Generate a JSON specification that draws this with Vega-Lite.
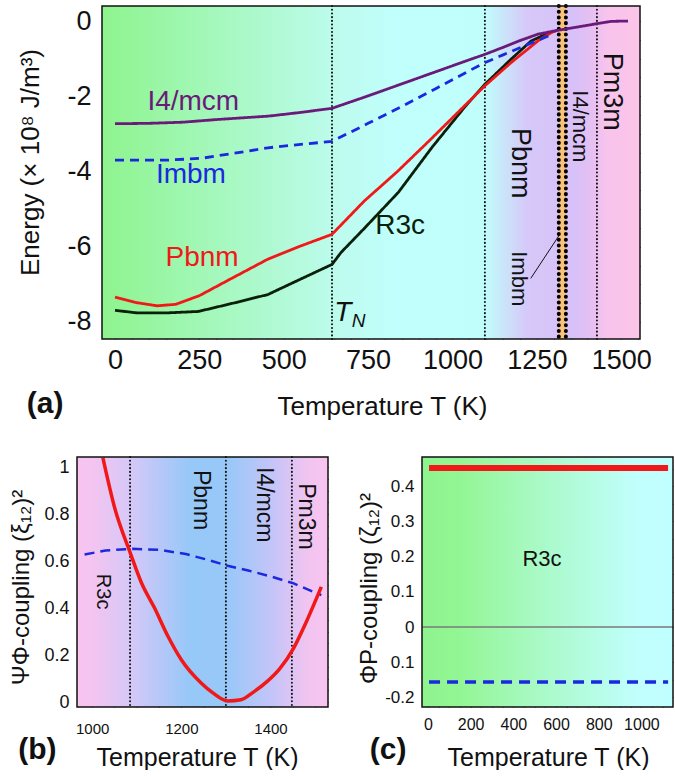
{
  "$schema": "https://vega.github.io/schema/vega-lite/v6.json",
  "background": "white",
  "padding": {"left": 8, "top": 4, "right": 0, "bottom": 0},
  "bounds": "flush",
  "spacing": 451,
  "config": {
    "view": {"stroke": null},
    "font": "Liberation Sans",
    "axis": {"domain": false, "grid": false, "ticks": true, "tickSize": -5, "tickColor": "#111", "tickWidth": 1, "labelColor": "#111", "titleColor": "#111", "labelFont": "Liberation Sans", "titleFont": "Liberation Sans", "titleFontWeight": "normal", "zindex": 1, "labelOverlap": false, "labelFlush": false, "labelBound": false, "labelSeparation": 0},
    "text": {"font": "Liberation Sans"}
  },
  "datasets": {
    "bgA": [{"T": -38.5, "T2": 1555.6, "E": -8.452, "E2": 0.399}],
    "bandA": [{"T": 1315, "T2": 1336}],
    "vA": [{"T": 643}, {"T": 1096}, {"T": 1428}],
    "thickA": [{"T": 1315}, {"T": 1336}],
    "curvesA": [
      {"series": "R3c", "T": 0, "E": -7.69}, {"series": "R3c", "T": 67, "E": -7.76}, {"series": "R3c", "T": 150, "E": -7.76}, {"series": "R3c", "T": 247, "E": -7.72}, {"series": "R3c", "T": 350, "E": -7.5}, {"series": "R3c", "T": 453, "E": -7.27}, {"series": "R3c", "T": 550, "E": -6.86}, {"series": "R3c", "T": 643, "E": -6.47}, {"series": "R3c", "T": 670, "E": -6.15}, {"series": "R3c", "T": 740, "E": -5.5}, {"series": "R3c", "T": 840, "E": -4.55}, {"series": "R3c", "T": 940, "E": -3.35}, {"series": "R3c", "T": 1035, "E": -2.3}, {"series": "R3c", "T": 1095, "E": -1.69}, {"series": "R3c", "T": 1173, "E": -1.02}, {"series": "R3c", "T": 1233, "E": -0.53}, {"series": "R3c", "T": 1290, "E": -0.3},
      {"series": "Pbnm", "T": 0, "E": -7.34}, {"series": "Pbnm", "T": 60, "E": -7.48}, {"series": "Pbnm", "T": 125, "E": -7.57}, {"series": "Pbnm", "T": 180, "E": -7.53}, {"series": "Pbnm", "T": 250, "E": -7.3}, {"series": "Pbnm", "T": 350, "E": -6.82}, {"series": "Pbnm", "T": 453, "E": -6.33}, {"series": "Pbnm", "T": 550, "E": -5.98}, {"series": "Pbnm", "T": 643, "E": -5.67}, {"series": "Pbnm", "T": 738, "E": -4.79}, {"series": "Pbnm", "T": 838, "E": -3.99}, {"series": "Pbnm", "T": 936, "E": -3.14}, {"series": "Pbnm", "T": 1035, "E": -2.26}, {"series": "Pbnm", "T": 1095, "E": -1.73}, {"series": "Pbnm", "T": 1173, "E": -1.11}, {"series": "Pbnm", "T": 1253, "E": -0.53}, {"series": "Pbnm", "T": 1292, "E": -0.31}, {"series": "Pbnm", "T": 1310, "E": -0.25},
      {"series": "Imbm", "T": 0, "E": -3.7}, {"series": "Imbm", "T": 150, "E": -3.7}, {"series": "Imbm", "T": 255, "E": -3.65}, {"series": "Imbm", "T": 350, "E": -3.52}, {"series": "Imbm", "T": 453, "E": -3.37}, {"series": "Imbm", "T": 550, "E": -3.28}, {"series": "Imbm", "T": 643, "E": -3.2}, {"series": "Imbm", "T": 750, "E": -2.72}, {"series": "Imbm", "T": 850, "E": -2.27}, {"series": "Imbm", "T": 950, "E": -1.8}, {"series": "Imbm", "T": 1050, "E": -1.32}, {"series": "Imbm", "T": 1095, "E": -1.11}, {"series": "Imbm", "T": 1150, "E": -0.9}, {"series": "Imbm", "T": 1200, "E": -0.71}, {"series": "Imbm", "T": 1250, "E": -0.52}, {"series": "Imbm", "T": 1300, "E": -0.34},
      {"series": "I4/mcm", "T": 0, "E": -2.73}, {"series": "I4/mcm", "T": 100, "E": -2.72}, {"series": "I4/mcm", "T": 200, "E": -2.69}, {"series": "I4/mcm", "T": 300, "E": -2.62}, {"series": "I4/mcm", "T": 400, "E": -2.56}, {"series": "I4/mcm", "T": 453, "E": -2.53}, {"series": "I4/mcm", "T": 550, "E": -2.43}, {"series": "I4/mcm", "T": 643, "E": -2.32}, {"series": "I4/mcm", "T": 750, "E": -1.99}, {"series": "I4/mcm", "T": 850, "E": -1.67}, {"series": "I4/mcm", "T": 950, "E": -1.35}, {"series": "I4/mcm", "T": 1050, "E": -1.03}, {"series": "I4/mcm", "T": 1095, "E": -0.89}, {"series": "I4/mcm", "T": 1150, "E": -0.7}, {"series": "I4/mcm", "T": 1200, "E": -0.52}, {"series": "I4/mcm", "T": 1253, "E": -0.35}, {"series": "I4/mcm", "T": 1310, "E": -0.25}, {"series": "I4/mcm", "T": 1370, "E": -0.16}, {"series": "I4/mcm", "T": 1428, "E": -0.07}, {"series": "I4/mcm", "T": 1470, "E": -0.01}, {"series": "I4/mcm", "T": 1520, "E": 0.0}
    ],
    "pointerA": [{"T": 1232, "E": -6.84}, {"T": 1318, "E": -5.67}],
    "labA": [{"T": 232, "E": -2.15, "text": "I4/mcm", "series": "I4/mcm"}, {"T": 225, "E": -4.1, "text": "Imbm", "series": "Imbm"}, {"T": 258, "E": -6.3, "text": "Pbnm", "series": "Pbnm"}, {"T": 845, "E": -5.45, "text": "R3c", "series": "R3c"}],
    "rotBigA": [{"T": 1200, "E": -3.78, "text": "Pbnm"}, {"T": 1473, "E": -1.88, "text": "Pm3m"}],
    "rotSmallA": [{"T": 1378, "E": -2.8, "text": "I4/mcm"}, {"T": 1198, "E": -6.85, "text": "Imbm"}],
    "tA": [{"T": 675, "E": -7.77, "text": "T"}],
    "nA": [{"T": 722, "E": -7.97, "text": "N"}],
    "panelLabA": [{"T": -207, "E": -10.18, "text": "(a)"}],
    "bgB": [{"T": 966, "T2": 1529, "v": -0.021, "v2": 1.043}],
    "vB": [{"T": 1085}, {"T": 1300}, {"T": 1448}],
    "redB": [{"T": 1024, "v": 1.04}, {"T": 1050, "v": 0.83}, {"T": 1086, "v": 0.632}, {"T": 1110, "v": 0.51}, {"T": 1140, "v": 0.4}, {"T": 1170, "v": 0.28}, {"T": 1200, "v": 0.18}, {"T": 1245, "v": 0.08}, {"T": 1270, "v": 0.04}, {"T": 1304, "v": 0.005}, {"T": 1334, "v": 0.01}, {"T": 1360, "v": 0.04}, {"T": 1394, "v": 0.09}, {"T": 1420, "v": 0.14}, {"T": 1452, "v": 0.23}, {"T": 1480, "v": 0.34}, {"T": 1514, "v": 0.49}],
    "blueB": [{"T": 983, "v": 0.628}, {"T": 1030, "v": 0.645}, {"T": 1090, "v": 0.652}, {"T": 1150, "v": 0.648}, {"T": 1210, "v": 0.63}, {"T": 1260, "v": 0.605}, {"T": 1304, "v": 0.58}, {"T": 1350, "v": 0.56}, {"T": 1400, "v": 0.535}, {"T": 1452, "v": 0.505}, {"T": 1514, "v": 0.455}],
    "rotB": [{"T": 1244, "v": 0.86, "text": "Pbnm"}, {"T": 1386, "v": 0.84, "text": "I4/mcm"}, {"T": 1480, "v": 0.79, "text": "Pm3m"}],
    "r3cB": [{"T": 1024, "v": 0.47, "text": "R3c"}],
    "panelLabB": [{"T": 877, "v": -0.204, "text": "(b)"}],
    "bgC": [{"T": -28, "T2": 1148, "v": -0.227, "v2": 0.483}],
    "zeroC": [{"v": 0}],
    "redC": [{"T": 5, "v": 0.452}, {"T": 1125, "v": 0.452}],
    "blueC": [{"T": 5, "v": -0.156}, {"T": 1125, "v": -0.156}],
    "r3cC": [{"T": 534, "v": 0.193, "text": "R3c"}],
    "panelLabC": [{"T": -187, "v": -0.349, "text": "(c)"}]
  },
  "vconcat": [
    {
      "bounds": "flush",
      "spacing": 10,
      "hconcat": [
        {"width": 15, "height": 10, "data": {"name": "bgA"}, "mark": {"type": "point", "opacity": 0}, "encoding": {}},
        {
          "width": 538,
          "height": 333,
          "resolve": {"axis": {"x": "independent", "y": "independent"}},
          "layer": [
            {
              "layer": [
                {"data": {"name": "bgA"}, "mark": {"type": "rect", "stroke": null, "fill": {"gradient": "linear", "x1": 0, "y1": 0, "x2": 1, "y2": 0, "stops": [{"offset": 0, "color": "#8EF48E"}, {"offset": 0.45, "color": "#BEFCF0"}, {"offset": 0.55, "color": "#C0FFFC"}, {"offset": 0.71, "color": "#C0FEFC"}, {"offset": 0.79, "color": "#D6C8F8"}, {"offset": 0.88, "color": "#D8C0F8"}, {"offset": 0.91, "color": "#E6C0F2"}, {"offset": 0.94, "color": "#F8C4EC"}, {"offset": 1, "color": "#FCC4E8"}]}},
                  "encoding": {"x": {"field": "T", "type": "quantitative", "axis": null, "scale": {"domain": [-38.5, 1555.6], "nice": false, "zero": false}}, "x2": {"field": "T2"}, "y": {"field": "E", "type": "quantitative", "axis": null, "scale": {"domain": [-8.452, 0.399], "nice": false, "zero": false}}, "y2": {"field": "E2"}}},
                {"data": {"name": "bandA"}, "mark": {"type": "rect", "fill": "#F8C27A", "stroke": null}, "encoding": {"x": {"field": "T", "type": "quantitative", "axis": null, "scale": {"domain": [-38.5, 1555.6], "nice": false, "zero": false}}, "x2": {"field": "T2"}}},
                {"data": {"name": "vA"}, "mark": {"type": "rule", "color": "#111", "strokeWidth": 2, "strokeDash": [0.1, 3.6], "strokeCap": "round"}, "encoding": {"x": {"field": "T", "type": "quantitative", "axis": null, "scale": {"domain": [-38.5, 1555.6], "nice": false, "zero": false}}}},
                {"data": {"name": "thickA"}, "mark": {"type": "rule", "color": "#000", "strokeWidth": 4, "strokeDash": [0.1, 5.6], "strokeCap": "round"}, "encoding": {"x": {"field": "T", "type": "quantitative", "axis": null, "scale": {"domain": [-38.5, 1555.6], "nice": false, "zero": false}}}},
                {"data": {"name": "curvesA"}, "mark": {"type": "line", "strokeWidth": 2.8}, "encoding": {
                  "x": {"field": "T", "type": "quantitative", "axis": null, "scale": {"domain": [-38.5, 1555.6], "nice": false, "zero": false}},
                  "y": {"field": "E", "type": "quantitative", "axis": null, "scale": {"domain": [-8.452, 0.399], "nice": false, "zero": false}},
                  "color": {"field": "series", "type": "nominal", "scale": {"domain": ["I4/mcm", "Imbm", "Pbnm", "R3c"], "range": ["#6A1B7A", "#1A28E0", "#F01818", "#0A200A"]}, "legend": null},
                  "strokeDash": {"field": "series", "type": "nominal", "scale": {"domain": ["I4/mcm", "Imbm", "Pbnm", "R3c"], "range": [[1, 0], [9, 6], [1, 0], [1, 0]]}, "legend": null}
                }},
                {"data": {"name": "pointerA"}, "mark": {"type": "line", "color": "#111", "strokeWidth": 1}, "encoding": {"x": {"field": "T", "type": "quantitative", "axis": null, "scale": {"domain": [-38.5, 1555.6], "nice": false, "zero": false}}, "y": {"field": "E", "type": "quantitative", "axis": null, "scale": {"domain": [-8.452, 0.399], "nice": false, "zero": false}}}},
                {"data": {"name": "labA"}, "mark": {"type": "text", "fontSize": 28, "align": "center", "baseline": "middle"}, "encoding": {"x": {"field": "T", "type": "quantitative", "axis": null, "scale": {"domain": [-38.5, 1555.6], "nice": false, "zero": false}}, "y": {"field": "E", "type": "quantitative", "axis": null, "scale": {"domain": [-8.452, 0.399], "nice": false, "zero": false}}, "text": {"field": "text"}, "color": {"field": "series", "type": "nominal", "scale": {"domain": ["I4/mcm", "Imbm", "Pbnm", "R3c"], "range": ["#6A1B7A", "#1A28E0", "#F01818", "#0A200A"]}, "legend": null}}},
                {"data": {"name": "rotBigA"}, "mark": {"type": "text", "fontSize": 27, "angle": 90, "align": "center", "baseline": "middle", "color": "#111"}, "encoding": {"x": {"field": "T", "type": "quantitative", "axis": null, "scale": {"domain": [-38.5, 1555.6], "nice": false, "zero": false}}, "y": {"field": "E", "type": "quantitative", "axis": null, "scale": {"domain": [-8.452, 0.399], "nice": false, "zero": false}}, "text": {"field": "text"}}},
                {"data": {"name": "rotSmallA"}, "mark": {"type": "text", "fontSize": 22, "angle": 90, "align": "center", "baseline": "middle", "color": "#111"}, "encoding": {"x": {"field": "T", "type": "quantitative", "axis": null, "scale": {"domain": [-38.5, 1555.6], "nice": false, "zero": false}}, "y": {"field": "E", "type": "quantitative", "axis": null, "scale": {"domain": [-8.452, 0.399], "nice": false, "zero": false}}, "text": {"field": "text"}}},
                {"data": {"name": "tA"}, "mark": {"type": "text", "fontSize": 28, "fontStyle": "italic", "align": "center", "baseline": "middle", "color": "#111"}, "encoding": {"x": {"field": "T", "type": "quantitative", "axis": null, "scale": {"domain": [-38.5, 1555.6], "nice": false, "zero": false}}, "y": {"field": "E", "type": "quantitative", "axis": null, "scale": {"domain": [-8.452, 0.399], "nice": false, "zero": false}}, "text": {"field": "text"}}},
                {"data": {"name": "nA"}, "mark": {"type": "text", "fontSize": 19, "fontStyle": "italic", "align": "center", "baseline": "middle", "color": "#111"}, "encoding": {"x": {"field": "T", "type": "quantitative", "axis": null, "scale": {"domain": [-38.5, 1555.6], "nice": false, "zero": false}}, "y": {"field": "E", "type": "quantitative", "axis": null, "scale": {"domain": [-8.452, 0.399], "nice": false, "zero": false}}, "text": {"field": "text"}}},
                {"data": {"name": "panelLabA"}, "mark": {"type": "text", "fontSize": 30, "fontWeight": "bold", "align": "center", "baseline": "middle", "color": "#111"}, "encoding": {"x": {"field": "T", "type": "quantitative", "axis": null, "scale": {"domain": [-38.5, 1555.6], "nice": false, "zero": false}}, "y": {"field": "E", "type": "quantitative", "axis": null, "scale": {"domain": [-8.452, 0.399], "nice": false, "zero": false}}, "text": {"field": "text"}}},
                {"data": {"name": "bgA"}, "mark": {"type": "rect", "fill": null, "fillOpacity": 0, "stroke": "#111", "strokeWidth": 1.5}, "encoding": {"x": {"field": "T", "type": "quantitative", "axis": null, "scale": {"domain": [-38.5, 1555.6], "nice": false, "zero": false}}, "x2": {"field": "T2"}, "y": {"field": "E", "type": "quantitative", "axis": null, "scale": {"domain": [-8.452, 0.399], "nice": false, "zero": false}}, "y2": {"field": "E2"}}}
              ]
            },
            {"data": {"name": "bgA"}, "mark": {"type": "point", "opacity": 0}, "encoding": {
              "x": {"field": "T", "type": "quantitative", "scale": {"domain": [-38.5, 1555.6], "nice": false, "zero": false}, "axis": {"orient": "bottom", "values": [0, 50, 100, 150, 200, 250, 300, 350, 400, 450, 500, 550, 600, 650, 700, 750, 800, 850, 900, 950, 1000, 1050, 1100, 1150, 1200, 1250, 1300, 1350, 1400, 1450, 1500, 1550], "labelExpr": "datum.value % 250 == 0 ? '' + datum.value : ''", "labelOverlap": false, "labelFontSize": 27, "labelPadding": 13, "title": "Temperature T (K)", "titleFontSize": 26, "titleX": 280, "titleY": 67, "titleBaseline": "middle", "titleAlign": "center"}},
              "y": {"field": "E", "type": "quantitative", "scale": {"domain": [-8.452, 0.399], "nice": false, "zero": false}, "axis": {"orient": "left", "values": [-8, -7.5, -7, -6.5, -6, -5.5, -5, -4.5, -4, -3.5, -3, -2.5, -2, -1.5, -1, -0.5, 0], "labelExpr": "datum.value % 2 == 0 ? '' + datum.value : ''", "labelOverlap": false, "labelFontSize": 27, "labelPadding": 16, "title": "Energy   (× 10⁸  J/m³)", "titleFontSize": 26, "titleX": -72, "titleY": 156, "titleBaseline": "middle", "titleAlign": "center", "titleAngle": -90}}
            }},
            {"data": {"name": "bgA"}, "mark": {"type": "point", "opacity": 0}, "encoding": {
              "x": {"field": "T", "type": "quantitative", "scale": {"domain": [-38.5, 1555.6], "nice": false, "zero": false}, "axis": {"orient": "top", "labels": false, "title": null, "values": [0, 50, 100, 150, 200, 250, 300, 350, 400, 450, 500, 550, 600, 650, 700, 750, 800, 850, 900, 950, 1000, 1050, 1100, 1150, 1200, 1250, 1300, 1350, 1400, 1450, 1500, 1550]}},
              "y": {"field": "E", "type": "quantitative", "scale": {"domain": [-8.452, 0.399], "nice": false, "zero": false}, "axis": {"orient": "right", "labels": false, "title": null, "values": [-8, -7.5, -7, -6.5, -6, -5.5, -5, -4.5, -4, -3.5, -3, -2.5, -2, -1.5, -1, -0.5, 0]}}
            }}
          ]
        }
      ]
    },
    {
      "bounds": "flush",
      "spacing": 94,
      "hconcat": [
        {
          "width": 251,
          "height": 250,
          "resolve": {"axis": {"x": "independent", "y": "independent"}},
          "layer": [
            {
              "layer": [
                {"data": {"name": "bgB"}, "mark": {"type": "rect", "stroke": null, "fill": {"gradient": "linear", "x1": 0, "y1": 0, "x2": 1, "y2": 0, "stops": [{"offset": 0, "color": "#F8C4F0"}, {"offset": 0.06, "color": "#F4C4F0"}, {"offset": 0.22, "color": "#D4C8F8"}, {"offset": 0.45, "color": "#96C8F8"}, {"offset": 0.6, "color": "#98C8F8"}, {"offset": 0.79, "color": "#C8C4F8"}, {"offset": 0.92, "color": "#F2C4F0"}, {"offset": 1, "color": "#F8C4F0"}]}},
                  "encoding": {"x": {"field": "T", "type": "quantitative", "axis": null, "scale": {"domain": [966, 1529], "nice": false, "zero": false}}, "x2": {"field": "T2"}, "y": {"field": "v", "type": "quantitative", "axis": null, "scale": {"domain": [-0.021, 1.043], "nice": false, "zero": false}}, "y2": {"field": "v2"}}},
                {"data": {"name": "vB"}, "mark": {"type": "rule", "color": "#111", "strokeWidth": 2, "strokeDash": [0.1, 3.6], "strokeCap": "round"}, "encoding": {"x": {"field": "T", "type": "quantitative", "axis": null, "scale": {"domain": [966, 1529], "nice": false, "zero": false}}}},
                {"data": {"name": "blueB"}, "mark": {"type": "line", "color": "#1A28E0", "strokeWidth": 2.5, "strokeDash": [10, 6]}, "encoding": {"x": {"field": "T", "type": "quantitative", "axis": null, "scale": {"domain": [966, 1529], "nice": false, "zero": false}}, "y": {"field": "v", "type": "quantitative", "axis": null, "scale": {"domain": [-0.021, 1.043], "nice": false, "zero": false}}}},
                {"data": {"name": "redB"}, "mark": {"type": "line", "color": "#F01818", "strokeWidth": 3.5, "interpolate": "monotone", "clip": true}, "encoding": {"x": {"field": "T", "type": "quantitative", "axis": null, "scale": {"domain": [966, 1529], "nice": false, "zero": false}}, "y": {"field": "v", "type": "quantitative", "axis": null, "scale": {"domain": [-0.021, 1.043], "nice": false, "zero": false}}}},
                {"data": {"name": "rotB"}, "mark": {"type": "text", "fontSize": 23, "angle": 90, "align": "center", "baseline": "middle", "color": "#111"}, "encoding": {"x": {"field": "T", "type": "quantitative", "axis": null, "scale": {"domain": [966, 1529], "nice": false, "zero": false}}, "y": {"field": "v", "type": "quantitative", "axis": null, "scale": {"domain": [-0.021, 1.043], "nice": false, "zero": false}}, "text": {"field": "text"}}},
                {"data": {"name": "r3cB"}, "mark": {"type": "text", "fontSize": 20, "angle": 90, "align": "center", "baseline": "middle", "color": "#111"}, "encoding": {"x": {"field": "T", "type": "quantitative", "axis": null, "scale": {"domain": [966, 1529], "nice": false, "zero": false}}, "y": {"field": "v", "type": "quantitative", "axis": null, "scale": {"domain": [-0.021, 1.043], "nice": false, "zero": false}}, "text": {"field": "text"}}},
                {"data": {"name": "panelLabB"}, "mark": {"type": "text", "fontSize": 30, "fontWeight": "bold", "align": "center", "baseline": "middle", "color": "#111"}, "encoding": {"x": {"field": "T", "type": "quantitative", "axis": null, "scale": {"domain": [966, 1529], "nice": false, "zero": false}}, "y": {"field": "v", "type": "quantitative", "axis": null, "scale": {"domain": [-0.021, 1.043], "nice": false, "zero": false}}, "text": {"field": "text"}}},
                {"data": {"name": "bgB"}, "mark": {"type": "rect", "fill": null, "fillOpacity": 0, "stroke": "#111", "strokeWidth": 1.5}, "encoding": {"x": {"field": "T", "type": "quantitative", "axis": null, "scale": {"domain": [966, 1529], "nice": false, "zero": false}}, "x2": {"field": "T2"}, "y": {"field": "v", "type": "quantitative", "axis": null, "scale": {"domain": [-0.021, 1.043], "nice": false, "zero": false}}, "y2": {"field": "v2"}}}
              ]
            },
            {"data": {"name": "bgB"}, "mark": {"type": "point", "opacity": 0}, "encoding": {
              "x": {"field": "T", "type": "quantitative", "scale": {"domain": [966, 1529], "nice": false, "zero": false}, "axis": {"orient": "bottom", "values": [1000, 1050, 1100, 1150, 1200, 1250, 1300, 1350, 1400, 1450, 1500], "labelExpr": "datum.value % 200 == 0 ? '' + datum.value : ''", "labelOverlap": false, "labelFontSize": 15, "labelPadding": 19, "title": "Temperature T (K)", "titleFontSize": 25, "titleX": 120, "titleY": 50, "titleBaseline": "middle", "titleAlign": "center"}},
              "y": {"field": "v", "type": "quantitative", "scale": {"domain": [-0.021, 1.043], "nice": false, "zero": false}, "axis": {"orient": "left", "values": [0, 0.05, 0.1, 0.15, 0.2, 0.25, 0.3, 0.35, 0.4, 0.45, 0.5, 0.55, 0.6, 0.65, 0.7, 0.75, 0.8, 0.85, 0.9, 0.95, 1], "labelExpr": "abs(datum.value * 5 - round(datum.value * 5)) < 0.001 ? '' + datum.value : ''", "labelOverlap": false, "labelFontSize": 18, "labelPadding": 13, "title": "ΨΦ-coupling  (ξ₁₂)²", "titleFontSize": 24, "titleX": -56, "titleY": 130, "titleBaseline": "middle", "titleAlign": "center", "titleAngle": -90}}
            }},
            {"data": {"name": "bgB"}, "mark": {"type": "point", "opacity": 0}, "encoding": {
              "x": {"field": "T", "type": "quantitative", "scale": {"domain": [966, 1529], "nice": false, "zero": false}, "axis": {"orient": "top", "labels": false, "title": null, "values": [1000, 1050, 1100, 1150, 1200, 1250, 1300, 1350, 1400, 1450, 1500]}},
              "y": {"field": "v", "type": "quantitative", "scale": {"domain": [-0.021, 1.043], "nice": false, "zero": false}, "axis": {"orient": "right", "labels": false, "title": null, "values": [0, 0.05, 0.1, 0.15, 0.2, 0.25, 0.3, 0.35, 0.4, 0.45, 0.5, 0.55, 0.6, 0.65, 0.7, 0.75, 0.8, 0.85, 0.9, 0.95, 1]}}
            }}
          ]
        },
        {
          "width": 251,
          "height": 250,
          "resolve": {"axis": {"x": "independent", "y": "independent"}},
          "layer": [
            {
              "layer": [
                {"data": {"name": "bgC"}, "mark": {"type": "rect", "stroke": null, "fill": {"gradient": "linear", "x1": 0, "y1": 0, "x2": 1, "y2": 0, "stops": [{"offset": 0, "color": "#8EF48E"}, {"offset": 0.15, "color": "#93F694"}, {"offset": 0.5, "color": "#ABFACB"}, {"offset": 0.85, "color": "#C0FFFC"}, {"offset": 1, "color": "#C0FFFF"}]}},
                  "encoding": {"x": {"field": "T", "type": "quantitative", "axis": null, "scale": {"domain": [-28, 1148], "nice": false, "zero": false}}, "x2": {"field": "T2"}, "y": {"field": "v", "type": "quantitative", "axis": null, "scale": {"domain": [-0.227, 0.483], "nice": false, "zero": false}}, "y2": {"field": "v2"}}},
                {"data": {"name": "zeroC"}, "mark": {"type": "rule", "color": "#7A7A7A", "strokeWidth": 1.5}, "encoding": {"y": {"field": "v", "type": "quantitative", "axis": null, "scale": {"domain": [-0.227, 0.483], "nice": false, "zero": false}}}},
                {"data": {"name": "blueC"}, "mark": {"type": "line", "color": "#1A28E0", "strokeWidth": 3.5, "strokeDash": [11, 7]}, "encoding": {"x": {"field": "T", "type": "quantitative", "axis": null, "scale": {"domain": [-28, 1148], "nice": false, "zero": false}}, "y": {"field": "v", "type": "quantitative", "axis": null, "scale": {"domain": [-0.227, 0.483], "nice": false, "zero": false}}}},
                {"data": {"name": "redC"}, "mark": {"type": "line", "color": "#F01818", "strokeWidth": 6}, "encoding": {"x": {"field": "T", "type": "quantitative", "axis": null, "scale": {"domain": [-28, 1148], "nice": false, "zero": false}}, "y": {"field": "v", "type": "quantitative", "axis": null, "scale": {"domain": [-0.227, 0.483], "nice": false, "zero": false}}}},
                {"data": {"name": "r3cC"}, "mark": {"type": "text", "fontSize": 22, "align": "center", "baseline": "middle", "color": "#111"}, "encoding": {"x": {"field": "T", "type": "quantitative", "axis": null, "scale": {"domain": [-28, 1148], "nice": false, "zero": false}}, "y": {"field": "v", "type": "quantitative", "axis": null, "scale": {"domain": [-0.227, 0.483], "nice": false, "zero": false}}, "text": {"field": "text"}}},
                {"data": {"name": "panelLabC"}, "mark": {"type": "text", "fontSize": 30, "fontWeight": "bold", "align": "center", "baseline": "middle", "color": "#111"}, "encoding": {"x": {"field": "T", "type": "quantitative", "axis": null, "scale": {"domain": [-28, 1148], "nice": false, "zero": false}}, "y": {"field": "v", "type": "quantitative", "axis": null, "scale": {"domain": [-0.227, 0.483], "nice": false, "zero": false}}, "text": {"field": "text"}}},
                {"data": {"name": "bgC"}, "mark": {"type": "rect", "fill": null, "fillOpacity": 0, "stroke": "#111", "strokeWidth": 1.5}, "encoding": {"x": {"field": "T", "type": "quantitative", "axis": null, "scale": {"domain": [-28, 1148], "nice": false, "zero": false}}, "x2": {"field": "T2"}, "y": {"field": "v", "type": "quantitative", "axis": null, "scale": {"domain": [-0.227, 0.483], "nice": false, "zero": false}}, "y2": {"field": "v2"}}}
              ]
            },
            {"data": {"name": "bgC"}, "mark": {"type": "point", "opacity": 0}, "encoding": {
              "x": {"field": "T", "type": "quantitative", "scale": {"domain": [-28, 1148], "nice": false, "zero": false}, "axis": {"orient": "bottom", "values": [0, 50, 100, 150, 200, 250, 300, 350, 400, 450, 500, 550, 600, 650, 700, 750, 800, 850, 900, 950, 1000, 1050, 1100], "labelExpr": "datum.value % 200 == 0 ? '' + datum.value : ''", "labelOverlap": false, "labelFontSize": 16, "labelPadding": 14, "title": "Temperature T (K)", "titleFontSize": 25, "titleX": 126, "titleY": 50, "titleBaseline": "middle", "titleAlign": "center"}},
              "y": {"field": "v", "type": "quantitative", "scale": {"domain": [-0.227, 0.483], "nice": false, "zero": false}, "axis": {"orient": "left", "values": [-0.2, -0.15, -0.1, -0.05, 0, 0.05, 0.1, 0.15, 0.2, 0.25, 0.3, 0.35, 0.4, 0.45], "labelExpr": "abs(datum.value * 10 - round(datum.value * 10)) < 0.001 ? ((datum.value < 0 && datum.value > -0.15) ? '0.1' : '' + datum.value) : ''", "labelOverlap": false, "labelFontSize": 17, "labelPadding": 13, "title": "ΦP-coupling  (ζ₁₂)²", "titleFontSize": 24, "titleX": -53, "titleY": 131, "titleBaseline": "middle", "titleAlign": "center", "titleAngle": -90}}
            }},
            {"data": {"name": "bgC"}, "mark": {"type": "point", "opacity": 0}, "encoding": {
              "x": {"field": "T", "type": "quantitative", "scale": {"domain": [-28, 1148], "nice": false, "zero": false}, "axis": {"orient": "top", "labels": false, "title": null, "values": [0, 50, 100, 150, 200, 250, 300, 350, 400, 450, 500, 550, 600, 650, 700, 750, 800, 850, 900, 950, 1000, 1050, 1100]}},
              "y": {"field": "v", "type": "quantitative", "scale": {"domain": [-0.227, 0.483], "nice": false, "zero": false}, "axis": {"orient": "right", "labels": false, "title": null, "values": [-0.2, -0.15, -0.1, -0.05, 0, 0.05, 0.1, 0.15, 0.2, 0.25, 0.3, 0.35, 0.4, 0.45]}}
            }}
          ]
        }
      ]
    }
  ]
}
